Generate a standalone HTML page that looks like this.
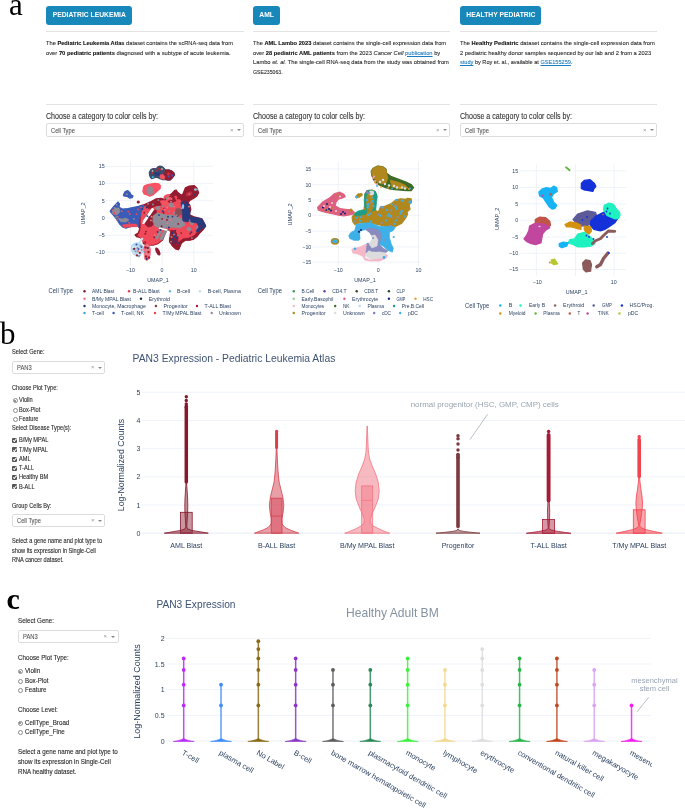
<!DOCTYPE html>
<html><head><meta charset="utf-8">
<style>
*{margin:0;padding:0;box-sizing:border-box}
html,body{width:685px;height:810px;overflow:hidden;background:#fff}
body{position:relative;font-family:"Liberation Sans",sans-serif;color:#333}
.a{position:absolute;white-space:nowrap}
.lbl{position:absolute;font-family:"Liberation Serif",serif;color:#000;line-height:1}
.btn{position:absolute;white-space:nowrap;background:#1888bb;border-radius:3px;color:#fff;font-weight:bold;font-size:8px;text-align:center;line-height:18.5px;height:18.5px;top:6px}
.hr{position:absolute;height:1px;background:#e3e3e3}
.desc{position:absolute;font-size:6.2px;line-height:9.5px;color:#2b2b2b;white-space:nowrap;transform-origin:0 50%}
.desc b{color:#111}
.desc,.sb,.dd .t,.ch{-webkit-text-stroke:0.1px currentColor}
.desc a{color:#1a7bc0;text-decoration:underline}
.ch{position:absolute;font-size:8.6px;color:#333;white-space:nowrap;transform-origin:0 50%;transform:scaleX(0.822)}
.dd{position:absolute;border:1px solid #dcdcdc;border-radius:2px;background:#fff}
.dd .t{position:absolute;font-size:7px;color:#555;white-space:nowrap;transform-origin:0 50%;transform:scaleX(0.82)}
.dd .x{position:absolute;font-size:6px;color:#999}
.dd .v{position:absolute;width:0;height:0;border-left:2px solid transparent;border-right:2px solid transparent;border-top:2.5px solid #888}
.sb{position:absolute;font-size:6.4px;color:#262626;white-space:nowrap;transform-origin:0 50%;transform:scaleX(0.88)}
.sb.sc{transform:scaleX(0.975)}
.rad{position:absolute;width:5px;height:5px;border:0.6px solid #8a8a8a;border-radius:50%;background:#fff}
.rad.on::after{content:"";position:absolute;left:0.9px;top:0.9px;width:2px;height:2px;border-radius:50%;background:#777}
.cb{position:absolute;width:5px;height:5px;background:#555;border-radius:1px}
.cb::after{content:"";position:absolute;left:1.5px;top:0.4px;width:1.3px;height:2.6px;border:solid #fff;border-width:0 0.8px 0.8px 0;transform:rotate(40deg)}
.pt{position:absolute;color:#2a3f5f;white-space:nowrap}
svg{position:absolute;left:0;top:0}
.wrap{position:absolute;left:0;top:0;width:685px;height:810px;will-change:transform;background:transparent}
</style></head>
<body><div class="wrap">
<!-- panel labels -->
<div class="lbl" style="left:9px;top:-11.5px;font-size:31px">a</div>
<div class="lbl" style="left:0px;top:318px;font-size:31px">b</div>
<div class="lbl" style="left:6.5px;top:584px;font-size:30px;font-weight:bold">c</div>

<!-- ============ PANEL A ============ -->
<div class="btn" style="left:46px;width:85.5px"><span style="display:inline-block;transform:scaleX(0.845)">PEDIATRIC LEUKEMIA</span></div>
<div class="btn" style="left:253px;width:27px"><span style="display:inline-block;transform:scaleX(0.845)">AML</span></div>
<div class="btn" style="left:460px;width:81px"><span style="display:inline-block;transform:scaleX(0.845)">HEALTHY PEDIATRIC</span></div>

<div class="hr" style="left:46px;top:31px;width:198px"></div>
<div class="hr" style="left:253px;top:31px;width:197px"></div>
<div class="hr" style="left:460px;top:31px;width:197px"></div>

<div class="desc" style="left:46px;top:38px;transform:scaleX(0.919)">The <b>Pediatric Leukemia Atlas</b> dataset contains the scRNA-seq data from</div>
<div class="desc" style="left:46px;top:47.5px;transform:scaleX(0.937)">over <b>70 pediatric patients</b> diagnosed with a subtype of acute leukemia.</div>

<div class="desc" style="left:253px;top:38px;transform:scaleX(0.924)">The <b>AML Lambo 2023</b> dataset contains the single-cell expression data from</div>
<div class="desc" style="left:253px;top:47.5px;transform:scaleX(0.927)">over <b>28 pediatric AML patients</b> from the 2023 <i>Cancer Cell</i> <a>publication</a> by</div>
<div class="desc" style="left:253px;top:57px;transform:scaleX(0.928)">Lambo <i>et. al.</i> The single-cell RNA-seq data from the study was obtained from</div>
<div class="desc" style="left:253px;top:66.5px;transform:scaleX(0.836)">GSE235063.</div>

<div class="desc" style="left:460px;top:38px;transform:scaleX(0.935)">The <b>Healthy Pediatric</b> dataset contains the single-cell expression data from</div>
<div class="desc" style="left:460px;top:47.5px;transform:scaleX(0.931)">2 pediatric healthy donor samples sequenced by our lab and 2 from a 2023</div>
<div class="desc" style="left:460px;top:57px;transform:scaleX(0.903)"><a>study</a> by Roy et. al., available at <a>GSE155259</a>.</div>

<div class="hr" style="left:46px;top:104px;width:198px"></div>
<div class="hr" style="left:253px;top:104px;width:197px"></div>
<div class="hr" style="left:460px;top:104px;width:197px"></div>

<div class="ch" style="left:46px;top:111px">Choose a category to color cells by:</div>
<div class="ch" style="left:253px;top:111px">Choose a category to color cells by:</div>
<div class="ch" style="left:460px;top:111px">Choose a category to color cells by:</div>

<div class="dd" style="left:46px;top:123px;width:198px;height:14px"><span class="t" style="left:3.5px;top:2.8px">Cell Type</span><span class="x" style="left:183px;top:2.5px">×</span><span class="v" style="left:190px;top:5px"></span></div>
<div class="dd" style="left:253px;top:123px;width:197px;height:14px"><span class="t" style="left:3.5px;top:2.8px">Cell Type</span><span class="x" style="left:182px;top:2.5px">×</span><span class="v" style="left:189px;top:5px"></span></div>
<div class="dd" style="left:460px;top:123px;width:197px;height:14px"><span class="t" style="left:3.5px;top:2.8px">Cell Type</span><span class="x" style="left:182px;top:2.5px">×</span><span class="v" style="left:189px;top:5px"></span></div>

<!-- ============ PANEL B sidebar ============ -->
<div class="sb" style="left:12px;top:348px">Select Gene:</div>
<div class="dd" style="left:12px;top:360.5px;width:92.5px;height:13px"><span class="t" style="left:4px;top:2.5px">PAN3</span><span class="x" style="left:78px;top:2.5px">×</span><span class="v" style="left:85px;top:5px"></span></div>
<div class="sb" style="left:12px;top:383.5px">Choose Plot Type:</div>
<div class="rad on" style="left:12.6px;top:398.2px"></div><div class="sb" style="left:19.3px;top:396.3px">Violin</div>
<div class="rad" style="left:12.6px;top:407.5px"></div><div class="sb" style="left:19.3px;top:405.6px">Box-Plot</div>
<div class="rad" style="left:12.6px;top:416.6px"></div><div class="sb" style="left:19.3px;top:414.7px">Feature</div>
<div class="sb" style="left:12px;top:424.3px">Select Disease Type(s):</div>
<div class="cb" style="left:12.3px;top:438px"></div><div class="sb" style="left:19.3px;top:436.3px">B/My MPAL</div>
<div class="cb" style="left:12.3px;top:447.3px"></div><div class="sb" style="left:19.3px;top:445.6px">T/My MPAL</div>
<div class="cb" style="left:12.3px;top:456.6px"></div><div class="sb" style="left:19.3px;top:454.9px">AML</div>
<div class="cb" style="left:12.3px;top:465.7px"></div><div class="sb" style="left:19.3px;top:464px">T-ALL</div>
<div class="cb" style="left:12.3px;top:475px"></div><div class="sb" style="left:19.3px;top:473.3px">Healthy BM</div>
<div class="cb" style="left:12.3px;top:484.4px"></div><div class="sb" style="left:19.3px;top:482.7px">B-ALL</div>
<div class="sb" style="left:12px;top:501.7px">Group Cells By:</div>
<div class="dd" style="left:12px;top:513.7px;width:92.5px;height:13.5px"><span class="t" style="left:4px;top:2.7px">Cell Type</span><span class="x" style="left:78px;top:2.7px">×</span><span class="v" style="left:85px;top:5.2px"></span></div>
<div class="sb" style="left:12px;top:537.4px">Select a gene name and plot type to</div>
<div class="sb" style="left:12px;top:546.6px">show its expression in Single-Cell</div>
<div class="sb" style="left:12px;top:555.8px">RNA cancer dataset.</div>

<!-- ============ PANEL C sidebar ============ -->
<div class="sb sc" style="left:18px;top:616.8px">Select Gene:</div>
<div class="dd" style="left:17.5px;top:629.6px;width:101px;height:13.7px"><span class="t" style="left:4.5px;top:2.6px">PAN3</span><span class="x" style="left:85px;top:2.6px">×</span><span class="v" style="left:92px;top:5.4px"></span></div>
<div class="sb sc" style="left:18px;top:653.8px">Choose Plot Type:</div>
<div class="rad on" style="left:17.6px;top:668.7px"></div><div class="sb sc" style="left:25.2px;top:666.8px">Violin</div>
<div class="rad" style="left:17.6px;top:678.5px"></div><div class="sb sc" style="left:25.2px;top:676.6px">Box-Plot</div>
<div class="rad" style="left:17.6px;top:688px"></div><div class="sb sc" style="left:25.2px;top:686.1px">Feature</div>
<div class="sb sc" style="left:18px;top:705.7px">Choose Level:</div>
<div class="rad on" style="left:17.6px;top:720.5px"></div><div class="sb sc" style="left:25.2px;top:718.6px">CellType_Broad</div>
<div class="rad" style="left:17.6px;top:730.3px"></div><div class="sb sc" style="left:25.2px;top:728.4px">CellType_Fine</div>
<div class="sb sc" style="left:18px;top:747.6px">Select a gene name and plot type to</div>
<div class="sb sc" style="left:18px;top:757.5px">show its expression in Single-Cell</div>
<div class="sb sc" style="left:18px;top:767.5px">RNA healthy dataset.</div>

<svg width="685" height="810" style="position:absolute;left:0;top:0">
<line x1="130.5" x2="130.5" y1="161.5" y2="265.6" stroke="#ebf0f8" stroke-width="0.8"/>
<line x1="162.1" x2="162.1" y1="161.5" y2="265.6" stroke="#ebf0f8" stroke-width="0.8"/>
<line x1="193.8" x2="193.8" y1="161.5" y2="265.6" stroke="#ebf0f8" stroke-width="0.8"/>
<line x1="105.7" x2="213" y1="166.4" y2="166.4" stroke="#ebf0f8" stroke-width="0.8"/>
<line x1="105.7" x2="213" y1="183.4" y2="183.4" stroke="#ebf0f8" stroke-width="0.8"/>
<line x1="105.7" x2="213" y1="200.7" y2="200.7" stroke="#ebf0f8" stroke-width="0.8"/>
<line x1="105.7" x2="213" y1="218.2" y2="218.2" stroke="#ebf0f8" stroke-width="0.8"/>
<line x1="105.7" x2="213" y1="235.3" y2="235.3" stroke="#ebf0f8" stroke-width="0.8"/>
<line x1="105.7" x2="213" y1="252.3" y2="252.3" stroke="#ebf0f8" stroke-width="0.8"/>
<text x="104.6" y="168.3" font-size="5.3" fill="#2a3f5f" text-anchor="end">15</text>
<text x="104.6" y="185.3" font-size="5.3" fill="#2a3f5f" text-anchor="end">10</text>
<text x="104.6" y="202.6" font-size="5.3" fill="#2a3f5f" text-anchor="end">5</text>
<text x="104.6" y="220.1" font-size="5.3" fill="#2a3f5f" text-anchor="end">0</text>
<text x="104.6" y="237.2" font-size="5.3" fill="#2a3f5f" text-anchor="end">−5</text>
<text x="104.6" y="254.2" font-size="5.3" fill="#2a3f5f" text-anchor="end">−10</text>
<text x="130.5" y="271.7" font-size="5.3" fill="#2a3f5f" text-anchor="middle">−10</text>
<text x="162.1" y="271.7" font-size="5.3" fill="#2a3f5f" text-anchor="middle">0</text>
<text x="193.8" y="271.7" font-size="5.3" fill="#2a3f5f" text-anchor="middle">10</text>
<text x="147.2" y="281.6" font-size="5.6" fill="#2a3f5f" textLength="21.6" lengthAdjust="spacingAndGlyphs">UMAP_1</text>
<text transform="translate(85.4,224.6) rotate(-90)" font-size="5.6" fill="#2a3f5f" textLength="22.2" lengthAdjust="spacingAndGlyphs">UMAP_2</text>
<polygon points="149.3,172.3 151.1,169.3 153.4,168.5 156.4,168.8 157.5,167.0 159.9,166.1 162.2,166.7 164.5,168.8 165.7,170.2 168.6,169.9 171.5,170.8 173.9,172.8 174.5,175.2 172.7,177.5 170.4,179.9 168.0,180.1 165.1,179.3 162.8,179.6 159.9,178.7 157.5,177.5 155.2,177.5 153.4,178.1 151.7,178.7 150.5,177.5 149.6,175.2" fill="#3d4e68" stroke="#3d4e68" stroke-width="1.2" stroke-linejoin="round" fill-opacity="1"/>
<polygon points="165.2,170.0 168.6,169.9 171.5,170.8 173.9,172.8 174.5,175.2 172.7,177.5 170.4,179.9 168.0,180.1 165.1,179.3 164.5,175.0" fill="#951c30" stroke="#951c30" stroke-width="0.8" stroke-linejoin="round" fill-opacity="1"/>
<polygon points="154.6,172.8 158.0,172.3 160.4,173.5 160.0,175.5 156.0,175.5 154.6,174.8" fill="#2c3a80" stroke="#2c3a80" stroke-width="0.6" stroke-linejoin="round" fill-opacity="1"/>
<polygon points="160.2,174.8 163.0,174.5 164.8,176.5 164.5,179.2 161.5,179.0 159.8,177.5" fill="#f4525f" stroke="#f4525f" stroke-width="0.6" stroke-linejoin="round" fill-opacity="1"/>
<ellipse cx="168.5" cy="174" rx="1.5" ry="1.8" fill="#d03040" transform="rotate(0 168.5 174)"/>
<circle cx="168.6" cy="176.4" r="1.0" fill="#3a60c0"/><circle cx="172.4" cy="175.5" r="1.0" fill="#3a60c0"/>
<circle cx="152.8" cy="177.2" r="1.1" fill="#3ab0e8"/>
<circle cx="152.3" cy="173.0" r="0.9" fill="#c0283e"/><circle cx="158.5" cy="168.5" r="0.9" fill="#c0283e"/><circle cx="161.0" cy="169.5" r="0.9" fill="#c0283e"/><circle cx="157.0" cy="170.5" r="0.9" fill="#c0283e"/>
<circle cx="162.0" cy="169.0" r="0.9" fill="#b8b0b8"/><circle cx="152.5" cy="171.0" r="0.9" fill="#b8b0b8"/>
<polygon points="143.5,187.4 144.7,185.7 147.6,184.5 151.7,183.9 155.2,183.4 158.7,183.9 160.4,185.7 160.1,188.6 158.1,190.4 156.9,191.5 154.6,193.3 152.8,195.0 149.9,196.2 147.0,195.0 144.1,193.9 142.9,191.5" fill="#fa5262" stroke="#fa5262" stroke-width="1.2" stroke-linejoin="round" fill-opacity="1"/>
<polygon points="147.0,188.0 149.0,186.5 151.5,186.5 152.8,189.0 152.8,193.5 150.5,194.5 148.0,194.0 146.4,192.0" fill="#8f8b97" stroke="#8f8b97" stroke-width="0.6" stroke-linejoin="round" fill-opacity="1"/>
<circle cx="146.8" cy="189.3" r="0.7" fill="#fa5262"/><circle cx="147.2" cy="191.8" r="0.7" fill="#fa5262"/>
<polygon points="123.4,195.0 125.1,191.5 127.8,190.7 130.0,192.8 131.3,195.0 133.0,195.9 132.2,197.7 129.5,198.1 126.9,196.3 123.8,195.9" fill="#3a5cb8" stroke="#3a5cb8" stroke-width="1.2" stroke-linejoin="round" fill-opacity="1"/>
<ellipse cx="126.8" cy="194.3" rx="1" ry="1" fill="#8f8b97" transform="rotate(0 126.8 194.3)"/>
<ellipse cx="138.3" cy="202" rx="1.6" ry="1.6" fill="#951c30" transform="rotate(0 138.3 202)"/>
<polygon points="140.0,206.0 144.4,204.7 150.5,202.0 155.8,199.0 161.0,198.5 165.0,199.4 168.0,196.0 171.0,194.5 174.5,190.7 176.2,190.2 177.5,192.4 181.0,195.0 182.8,194.6 185.4,188.0 188.9,186.3 194.2,185.8 196.8,188.0 198.5,192.8 196.8,195.9 193.3,198.5 189.8,200.3 188.0,202.9 189.8,205.5 190.7,209.4 188.9,214.6 195.0,217.3 202.0,219.0 203.8,222.5 205.5,226.0 202.9,229.5 199.4,233.0 196.8,236.5 193.3,239.2 188.9,240.0 185.4,239.2 181.9,241.8 180.1,245.3 178.4,249.7 175.8,248.8 172.3,245.3 169.6,241.8 169.6,238.3 171.4,234.8 170.5,231.3 168.5,229.5 166.5,230.5 164.5,235.0 162.5,240.0 158.0,243.5 153.0,245.0 148.0,245.0 143.5,243.5 142.7,239.2 140.0,237.4 136.5,236.5 135.2,234.8 138.3,233.0 140.0,228.6 138.0,226.0 140.0,215.0" fill="#951c30" stroke="#951c30" stroke-width="1.4" stroke-linejoin="round" fill-opacity="1"/>
<polygon points="142.0,208.0 150.0,204.0 158.0,201.0 166.0,202.0 172.0,198.0 176.0,196.0 180.0,199.0 184.0,204.0 186.0,210.0 184.0,216.0 190.0,219.0 198.0,221.0 201.0,225.0 198.0,230.0 194.0,235.0 188.0,237.5 183.0,238.0 178.0,242.0 176.0,245.0 172.0,240.0 172.0,234.0 169.0,229.0 166.0,229.0 164.0,235.0 162.0,239.5 158.0,243.0 153.0,244.5 148.0,244.5 144.0,242.5 141.0,238.0 138.0,235.5 140.0,232.0 141.0,228.0 141.0,218.0" fill="#f04a5a" stroke="#f04a5a" stroke-width="0.8" stroke-linejoin="round" fill-opacity="1"/>
<polygon points="146.0,206.0 152.0,203.0 158.0,201.0 164.0,201.5 170.0,198.0 174.0,197.0 176.0,201.0 170.0,203.0 162.0,205.0 155.0,206.0 149.0,209.0" fill="#951c30" stroke="#951c30" stroke-width="0.8" stroke-linejoin="round" fill-opacity="1"/>
<polygon points="147.0,214.0 152.0,211.0 156.0,210.0 157.0,215.0 155.0,221.0 152.0,226.0 148.0,227.0 145.0,224.0 146.0,218.0" fill="#951c30" stroke="#951c30" stroke-width="0.8" stroke-linejoin="round" fill-opacity="1"/>
<polygon points="160.0,201.0 166.0,200.0 170.0,204.0 168.0,207.0 163.0,207.0" fill="#f4525f" stroke="#f4525f" stroke-width="0.6" stroke-linejoin="round" fill-opacity="1"/>
<ellipse cx="167.4" cy="197.6" rx="3.9" ry="3.4" fill="#f4525f" transform="rotate(-20 167.4 197.6)"/>
<ellipse cx="166.8" cy="198.6" rx="1.5" ry="1.3" fill="#8f8b97" transform="rotate(0 166.8 198.6)"/>
<ellipse cx="169.5" cy="196.2" rx="1.0" ry="1.0" fill="#8f8b97" transform="rotate(0 169.5 196.2)"/>
<polygon points="176.0,192.0 181.0,196.0 184.0,193.0 186.0,189.0 193.0,188.0 196.0,191.0 194.0,195.0 189.0,198.0 186.0,202.0 182.0,201.0 178.0,198.0" fill="#951c30" stroke="#951c30" stroke-width="0.6" stroke-linejoin="round" fill-opacity="1"/>
<ellipse cx="189" cy="194" rx="3.5" ry="2.2" fill="#c0283e" transform="rotate(-20 189 194)"/>
<ellipse cx="195.5" cy="189.5" rx="1.5" ry="1.3" fill="#8fd0f0" transform="rotate(0 195.5 189.5)"/>
<polygon points="153.0,216.0 157.0,213.0 162.0,214.0 166.0,215.0 172.0,215.0 178.0,217.0 183.0,220.0 185.0,225.0 180.0,228.0 172.0,227.0 166.0,228.0 160.0,228.0 155.0,226.0 153.0,221.0" fill="#8f8b97" stroke="#8f8b97" stroke-width="0.8" stroke-linejoin="round" fill-opacity="1"/>
<ellipse cx="158" cy="208" rx="2.5" ry="2" fill="#8f8b97" transform="rotate(0 158 208)"/>
<ellipse cx="171" cy="205" rx="2.5" ry="2.5" fill="#8f8b97" transform="rotate(0 171 205)"/>
<ellipse cx="192" cy="222" rx="2" ry="3" fill="#8f8b97" transform="rotate(0 192 222)"/>
<ellipse cx="198" cy="228" rx="1.8" ry="2.2" fill="#8f8b97" transform="rotate(0 198 228)"/>
<ellipse cx="189" cy="229" rx="2.5" ry="2" fill="#8f8b97" transform="rotate(0 189 229)"/>
<ellipse cx="175" cy="213" rx="2" ry="1.5" fill="#8f8b97" transform="rotate(0 175 213)"/>
<polygon points="165.0,229.5 167.0,230.0 164.0,236.0 162.0,240.0 160.0,239.0 162.0,234.0" fill="#8f8b97" stroke="#8f8b97" stroke-width="1.0" stroke-linejoin="round" fill-opacity="1"/>
<polygon points="181.0,202.0 186.0,201.0 189.0,206.0 190.0,212.0 190.0,217.0 188.0,222.0 183.0,221.0 182.0,213.0" fill="#283a7e" stroke="#283a7e" stroke-width="0.8" stroke-linejoin="round" fill-opacity="1"/>
<polygon points="190.0,217.0 196.0,217.5 202.0,219.0 205.0,224.0 205.5,227.0 202.0,230.0 199.0,233.0 196.0,231.0 199.0,227.0 197.0,223.0 191.0,222.0" fill="#283a7e" stroke="#283a7e" stroke-width="0.8" stroke-linejoin="round" fill-opacity="1"/>
<polygon points="171.0,230.0 175.0,231.0 178.0,236.0 178.0,242.0 176.0,246.0 173.0,244.0 170.0,240.0 170.0,235.0" fill="#951c30" stroke="#951c30" stroke-width="0.8" stroke-linejoin="round" fill-opacity="1"/>
<circle cx="172.5" cy="233.0" r="1.2" fill="#283a7e"/><circle cx="174.5" cy="236.5" r="1.2" fill="#283a7e"/><circle cx="172.0" cy="239.5" r="1.2" fill="#283a7e"/><circle cx="175.5" cy="241.5" r="1.2" fill="#283a7e"/><circle cx="176.5" cy="238.0" r="1.2" fill="#283a7e"/><circle cx="173.5" cy="243.0" r="1.2" fill="#283a7e"/>
<circle cx="174.0" cy="234.5" r="1.0" fill="#8f8b97"/><circle cx="171.5" cy="237.0" r="1.0" fill="#8f8b97"/>
<polygon points="176.0,209.0 181.0,208.0 182.0,214.0 178.0,216.0 175.0,214.0" fill="#8b4f55" stroke="#8b4f55" stroke-width="0.6" stroke-linejoin="round" fill-opacity="1"/>
<ellipse cx="183" cy="206.5" rx="1.2" ry="2.5" fill="#8fc8ee" transform="rotate(0 183 206.5)"/>
<polyline points="172,245 176,248.5 179,248 181,243 185,240 190,239.5 195,237 199,233 203,229" fill="none" stroke="#951c30" stroke-width="2" stroke-linejoin="round"/>
<polygon points="110.3,210.8 113.8,206.4 118.1,202.0 119.5,203.8 119.0,207.3 122.5,209.0 127.8,208.6 133.9,207.3 140.0,206.0 144.0,205.5 141.0,212.0 139.0,220.0 138.5,226.5 133.9,226.0 129.5,226.9 126.0,228.2 122.5,226.9 119.9,224.3 116.4,219.0 112.9,214.6 110.3,211.6" fill="#3a5cb8" stroke="#3a5cb8" stroke-width="1.2" stroke-linejoin="round" fill-opacity="1"/>
<polygon points="112.0,211.0 115.0,208.0 119.0,208.0 120.0,212.0 117.0,215.0 113.0,214.0" fill="#8f8b97" stroke="#8f8b97" stroke-width="0.6" stroke-linejoin="round" fill-opacity="1"/>
<polygon points="118.0,218.0 122.0,219.0 126.0,218.0 129.0,220.0 126.0,222.0 121.0,222.0" fill="#8f8b97" stroke="#8f8b97" stroke-width="0.6" stroke-linejoin="round" fill-opacity="1"/>
<polygon points="122.0,225.0 130.0,224.0 136.0,224.0 138.0,226.5 130.0,227.0 124.0,227.5" fill="#f04a5a" stroke="#f04a5a" stroke-width="0.6" stroke-linejoin="round" fill-opacity="1"/>
<circle cx="128.4" cy="211.6" r="0.9" fill="#f04a5a"/><circle cx="141.0" cy="207.6" r="0.9" fill="#f04a5a"/><circle cx="113.4" cy="213.1" r="0.9" fill="#8f8b97"/><circle cx="114.5" cy="207.8" r="0.9" fill="#8f8b97"/><circle cx="117.8" cy="216.6" r="0.9" fill="#f04a5a"/><circle cx="114.3" cy="210.1" r="0.9" fill="#8f8b97"/><circle cx="116.4" cy="217.2" r="0.9" fill="#8f8b97"/><circle cx="116.6" cy="204.6" r="0.9" fill="#8f8b97"/><circle cx="117.2" cy="219.8" r="0.9" fill="#f04a5a"/><circle cx="136.5" cy="214.2" r="0.9" fill="#f04a5a"/><circle cx="113.1" cy="209.9" r="0.9" fill="#f04a5a"/><circle cx="114.3" cy="213.0" r="0.9" fill="#f04a5a"/><circle cx="115.4" cy="214.8" r="0.9" fill="#f04a5a"/><circle cx="129.1" cy="222.7" r="0.9" fill="#f04a5a"/><circle cx="121.8" cy="211.2" r="0.9" fill="#f04a5a"/><circle cx="129.8" cy="214.0" r="0.9" fill="#f04a5a"/><circle cx="133.9" cy="219.0" r="0.9" fill="#8f8b97"/><circle cx="138.0" cy="209.5" r="0.9" fill="#f04a5a"/>
<line x1="152.5" y1="209.5" x2="143.5" y2="222.5" stroke="#fff" stroke-width="3" stroke-linecap="round"/>
<line x1="161" y1="230" x2="157" y2="238" stroke="#8f8b97" stroke-width="2.5" stroke-linecap="round"/>
<line x1="159.5" y1="228.3" x2="167" y2="230" stroke="#fff" stroke-width="1.6" stroke-linecap="round"/>
<polygon points="131.5,245.5 134.0,243.5 137.0,242.8 140.0,243.5 142.5,245.0 143.2,248.5 142.8,252.0 141.0,255.0 138.5,257.0 135.5,256.0 133.0,253.5 131.5,250.0" fill="#b3d7ef" stroke="#b3d7ef" stroke-width="1.0" stroke-linejoin="round" fill-opacity="1"/>
<circle cx="133.2" cy="246.8" r="1.3" fill="#d8ecf2"/><circle cx="136.5" cy="247.5" r="1.3" fill="#d8ecf2"/><circle cx="140.0" cy="250.5" r="1.3" fill="#d8ecf2"/><circle cx="134.5" cy="252.5" r="1.3" fill="#d8ecf2"/><circle cx="138.0" cy="254.5" r="1.3" fill="#d8ecf2"/>
<circle cx="136.5" cy="244.5" r="1.0" fill="#3a5cb8"/><circle cx="134.0" cy="249.0" r="1.0" fill="#3a5cb8"/><circle cx="138.5" cy="249.0" r="1.0" fill="#3a5cb8"/><circle cx="141.5" cy="247.0" r="1.0" fill="#3a5cb8"/>
<circle cx="134.3" cy="248.8" r="1.1" fill="#8f1d2f"/><circle cx="139.8" cy="252.8" r="1.1" fill="#8f1d2f"/><circle cx="137.0" cy="255.3" r="1.1" fill="#8f1d2f"/>
<circle cx="137.3" cy="248.0" r="1.0" fill="#8f8b97"/><circle cx="140.7" cy="246.0" r="1.0" fill="#8f8b97"/><circle cx="135.5" cy="251.5" r="1.0" fill="#8f8b97"/><circle cx="139.0" cy="256.0" r="1.0" fill="#8f8b97"/>
<circle cx="138.0" cy="251.2" r="1.1" fill="#f27583"/><circle cx="141.5" cy="250.0" r="1.1" fill="#f27583"/>
<line x1="139.5" y1="242.5" x2="142.3" y2="238.7" stroke="#cfe6ee" stroke-width="2" stroke-linecap="round"/>
<polygon points="144.3,245.5 146.8,244.3 149.3,245.6 150.7,249.5 150.3,254.5 149.2,258.8 146.8,260.7 144.6,259.2 144.1,254.0 143.6,249.0" fill="#f27583" stroke="#f27583" stroke-width="0.8" stroke-linejoin="round" fill-opacity="1"/>
<circle cx="145.5" cy="247.5" r="1.2" fill="#a51b32"/><circle cx="148.5" cy="252.0" r="1.2" fill="#a51b32"/><circle cx="146.0" cy="256.5" r="1.2" fill="#a51b32"/><circle cx="149.0" cy="257.5" r="1.2" fill="#a51b32"/>
<circle cx="147.8" cy="248.0" r="1.1" fill="#253575"/><circle cx="146.7" cy="258.8" r="1.1" fill="#253575"/>
<circle cx="145.2" cy="252.2" r="1.1" fill="#8f8b97"/>
<ellipse cx="157.8" cy="251.5" rx="2.0" ry="4.3" fill="#951c30" transform="rotate(-25 157.8 251.5)"/>
<circle cx="178.1" cy="217.3" r="0.95" fill="#8f8b97"/><circle cx="189.2" cy="194.1" r="0.95" fill="#8f8b97"/><circle cx="170.1" cy="196.4" r="0.95" fill="#951c30"/><circle cx="173.8" cy="242.2" r="0.95" fill="#951c30"/><circle cx="164.4" cy="208.7" r="0.95" fill="#951c30"/><circle cx="151.6" cy="216.8" r="0.95" fill="#f27583"/><circle cx="148.0" cy="203.8" r="0.95" fill="#8f8b97"/><circle cx="164.7" cy="209.4" r="0.95" fill="#f27583"/><circle cx="181.2" cy="233.1" r="0.95" fill="#951c30"/><circle cx="162.8" cy="211.3" r="0.95" fill="#283a7e"/><circle cx="169.1" cy="211.4" r="0.95" fill="#8f8b97"/><circle cx="146.6" cy="207.5" r="0.95" fill="#283a7e"/><circle cx="142.4" cy="222.0" r="0.95" fill="#f27583"/><circle cx="142.3" cy="209.0" r="0.95" fill="#283a7e"/><circle cx="161.6" cy="226.3" r="0.95" fill="#951c30"/><circle cx="177.5" cy="216.1" r="0.95" fill="#283a7e"/><circle cx="168.0" cy="216.7" r="0.95" fill="#283a7e"/><circle cx="145.3" cy="233.7" r="0.95" fill="#951c30"/><circle cx="171.5" cy="198.9" r="0.95" fill="#f27583"/><circle cx="160.6" cy="229.9" r="0.95" fill="#283a7e"/><circle cx="188.5" cy="204.8" r="0.95" fill="#283a7e"/><circle cx="184.1" cy="202.5" r="0.95" fill="#951c30"/><circle cx="150.9" cy="220.4" r="0.95" fill="#f27583"/><circle cx="158.4" cy="200.1" r="0.95" fill="#8f8b97"/><circle cx="191.9" cy="238.1" r="0.95" fill="#8f8b97"/><circle cx="149.3" cy="217.3" r="0.95" fill="#283a7e"/><circle cx="168.4" cy="198.2" r="0.95" fill="#f27583"/><circle cx="179.1" cy="243.3" r="0.95" fill="#283a7e"/><circle cx="168.9" cy="227.5" r="0.95" fill="#283a7e"/><circle cx="193.9" cy="193.5" r="0.95" fill="#951c30"/><circle cx="190.2" cy="233.7" r="0.95" fill="#951c30"/><circle cx="176.7" cy="215.5" r="0.95" fill="#8f8b97"/><circle cx="178.2" cy="223.9" r="0.95" fill="#951c30"/><circle cx="181.4" cy="208.2" r="0.95" fill="#f27583"/><circle cx="191.4" cy="232.2" r="0.95" fill="#283a7e"/><circle cx="152.9" cy="204.5" r="0.95" fill="#8f8b97"/><circle cx="188.9" cy="206.6" r="0.95" fill="#f27583"/><circle cx="167.4" cy="223.1" r="0.95" fill="#f27583"/><circle cx="170.5" cy="219.8" r="0.95" fill="#f27583"/><circle cx="171.1" cy="241.6" r="0.95" fill="#8f8b97"/><circle cx="178.0" cy="235.4" r="0.95" fill="#8f8b97"/><circle cx="147.3" cy="216.1" r="0.95" fill="#283a7e"/><circle cx="174.3" cy="206.6" r="0.95" fill="#f27583"/><circle cx="172.5" cy="216.6" r="0.95" fill="#283a7e"/><circle cx="197.3" cy="189.4" r="0.95" fill="#8f8b97"/><circle cx="154.7" cy="235.1" r="0.95" fill="#f27583"/><circle cx="177.8" cy="198.5" r="0.95" fill="#951c30"/><circle cx="167.0" cy="219.9" r="0.95" fill="#951c30"/><circle cx="170.9" cy="201.6" r="0.95" fill="#f27583"/><circle cx="153.4" cy="221.6" r="0.95" fill="#8f8b97"/><circle cx="194.3" cy="194.6" r="0.95" fill="#283a7e"/><circle cx="162.8" cy="206.0" r="0.95" fill="#8f8b97"/><circle cx="165.3" cy="199.4" r="0.95" fill="#951c30"/><circle cx="146.1" cy="231.6" r="0.95" fill="#951c30"/><circle cx="145.3" cy="242.2" r="0.95" fill="#951c30"/><circle cx="163.2" cy="216.9" r="0.95" fill="#8f8b97"/><circle cx="146.6" cy="213.4" r="0.95" fill="#f27583"/><circle cx="163.6" cy="212.7" r="0.95" fill="#951c30"/><circle cx="157.6" cy="231.9" r="0.95" fill="#283a7e"/><circle cx="159.0" cy="215.1" r="0.95" fill="#283a7e"/><circle cx="162.2" cy="218.9" r="0.95" fill="#951c30"/><circle cx="144.3" cy="212.8" r="0.95" fill="#951c30"/><circle cx="163.7" cy="220.1" r="0.95" fill="#f27583"/><circle cx="175.3" cy="230.6" r="0.95" fill="#283a7e"/><circle cx="154.8" cy="236.9" r="0.95" fill="#8f8b97"/><circle cx="201.2" cy="226.3" r="0.95" fill="#951c30"/><circle cx="167.1" cy="207.5" r="0.95" fill="#f27583"/><circle cx="179.4" cy="219.7" r="0.95" fill="#8f8b97"/><circle cx="155.6" cy="217.8" r="0.95" fill="#8f8b97"/><circle cx="154.2" cy="237.2" r="0.95" fill="#951c30"/>
<text x="48.6" y="293.0" font-size="6.3" fill="#2a3f5f" textLength="24.3" lengthAdjust="spacingAndGlyphs">Cell Type</text>
<circle cx="84.5" cy="291.3" r="1.2" fill="#7f1a2a"/>
<text x="92" y="293.2" font-size="5.4" fill="#2a3f5f" textLength="22.5" lengthAdjust="spacingAndGlyphs">AML Blast</text>
<circle cx="129" cy="291.3" r="1.2" fill="#d3404f"/>
<text x="133" y="293.2" font-size="5.4" fill="#2a3f5f" textLength="26.6" lengthAdjust="spacingAndGlyphs">B-ALL Blast</text>
<circle cx="170" cy="291.3" r="1.2" fill="#6ab4e0"/>
<text x="177" y="293.2" font-size="5.4" fill="#2a3f5f" textLength="13" lengthAdjust="spacingAndGlyphs">B-cell</text>
<circle cx="200" cy="291.3" r="1.2" fill="#c0e0ea"/>
<text x="207.7" y="293.2" font-size="5.4" fill="#2a3f5f" textLength="33.1" lengthAdjust="spacingAndGlyphs">B-cell, Plasma</text>
<circle cx="84.5" cy="298.7" r="1.2" fill="#f27583"/>
<text x="92" y="300.6" font-size="5.4" fill="#2a3f5f" textLength="39" lengthAdjust="spacingAndGlyphs">B/My MPAL Blast</text>
<circle cx="141" cy="298.7" r="1.2" fill="#1a2a40"/>
<text x="148.8" y="300.6" font-size="5.4" fill="#2a3f5f" textLength="21.2" lengthAdjust="spacingAndGlyphs">Erythroid</text>
<circle cx="84.5" cy="306" r="1.2" fill="#253575"/>
<text x="92" y="307.9" font-size="5.4" fill="#2a3f5f" textLength="53.8" lengthAdjust="spacingAndGlyphs">Monocyte, Macrophage</text>
<circle cx="155.9" cy="306" r="1.2" fill="#7d3a3e"/>
<text x="163.5" y="307.9" font-size="5.4" fill="#2a3f5f" textLength="24.3" lengthAdjust="spacingAndGlyphs">Progenitor</text>
<circle cx="197" cy="306" r="1.2" fill="#a51b32"/>
<text x="204.6" y="307.9" font-size="5.4" fill="#2a3f5f" textLength="26.4" lengthAdjust="spacingAndGlyphs">T-ALL Blast</text>
<circle cx="84.5" cy="313" r="1.2" fill="#3aa0d8"/>
<text x="92" y="314.9" font-size="5.4" fill="#2a3f5f" textLength="11.8" lengthAdjust="spacingAndGlyphs">T-cell</text>
<circle cx="113.6" cy="313" r="1.2" fill="#3a5cb8"/>
<text x="121" y="314.9" font-size="5.4" fill="#2a3f5f" textLength="23" lengthAdjust="spacingAndGlyphs">T-cell, NK</text>
<circle cx="155" cy="313" r="1.2" fill="#f2434f"/>
<text x="162.6" y="314.9" font-size="5.4" fill="#2a3f5f" textLength="38.9" lengthAdjust="spacingAndGlyphs">T/My MPAL Blast</text>
<circle cx="211.7" cy="313" r="1.2" fill="#8f8b97"/>
<text x="219" y="314.9" font-size="5.4" fill="#2a3f5f" textLength="21.8" lengthAdjust="spacingAndGlyphs">Unknown</text>
<line x1="338.3" x2="338.3" y1="161.5" y2="266" stroke="#ebf0f8" stroke-width="0.8"/>
<line x1="378.3" x2="378.3" y1="161.5" y2="266" stroke="#ebf0f8" stroke-width="0.8"/>
<line x1="418.5" x2="418.5" y1="161.5" y2="266" stroke="#ebf0f8" stroke-width="0.8"/>
<line x1="312.5" x2="420.5" y1="169" y2="169" stroke="#ebf0f8" stroke-width="0.8"/>
<line x1="312.5" x2="420.5" y1="184.6" y2="184.6" stroke="#ebf0f8" stroke-width="0.8"/>
<line x1="312.5" x2="420.5" y1="200" y2="200" stroke="#ebf0f8" stroke-width="0.8"/>
<line x1="312.5" x2="420.5" y1="215.3" y2="215.3" stroke="#ebf0f8" stroke-width="0.8"/>
<line x1="312.5" x2="420.5" y1="231.2" y2="231.2" stroke="#ebf0f8" stroke-width="0.8"/>
<line x1="312.5" x2="420.5" y1="246.9" y2="246.9" stroke="#ebf0f8" stroke-width="0.8"/>
<line x1="312.5" x2="420.5" y1="262.2" y2="262.2" stroke="#ebf0f8" stroke-width="0.8"/>
<text x="311.3" y="170.9" font-size="5.3" fill="#2a3f5f" text-anchor="end">15</text>
<text x="311.3" y="186.5" font-size="5.3" fill="#2a3f5f" text-anchor="end">10</text>
<text x="311.3" y="201.9" font-size="5.3" fill="#2a3f5f" text-anchor="end">5</text>
<text x="311.3" y="217.2" font-size="5.3" fill="#2a3f5f" text-anchor="end">0</text>
<text x="311.3" y="233.1" font-size="5.3" fill="#2a3f5f" text-anchor="end">−5</text>
<text x="311.3" y="248.8" font-size="5.3" fill="#2a3f5f" text-anchor="end">−10</text>
<text x="311.3" y="264.1" font-size="5.3" fill="#2a3f5f" text-anchor="end">−15</text>
<text x="338.3" y="272.1" font-size="5.3" fill="#2a3f5f" text-anchor="middle">−10</text>
<text x="378.3" y="272.1" font-size="5.3" fill="#2a3f5f" text-anchor="middle">0</text>
<text x="418.5" y="272.1" font-size="5.3" fill="#2a3f5f" text-anchor="middle">10</text>
<text x="354.2" y="282.3" font-size="5.6" fill="#2a3f5f" textLength="21.6" lengthAdjust="spacingAndGlyphs">UMAP_1</text>
<text transform="translate(291.9,225.5) rotate(-90)" font-size="5.6" fill="#2a3f5f" textLength="22.2" lengthAdjust="spacingAndGlyphs">UMAP_2</text>
<polygon points="317.6,207.3 322.8,202.0 329.4,198.1 334.7,193.5 339.9,192.2 343.9,194.2 345.2,196.8 341.9,198.1 338.6,198.8 336.0,202.0 335.3,206.0 339.9,208.6 345.2,209.3 350.4,209.9 353.1,211.2 354.4,212.6 351.8,214.5 347.8,215.2 343.9,215.8 338.6,215.2 333.4,213.9 326.8,212.6 321.5,211.2 318.2,209.9" fill="#de5f7f" stroke="#de5f7f" stroke-width="1.2" stroke-linejoin="round" fill-opacity="1"/>
<circle cx="323.0" cy="207.5" r="1.1" fill="#1a2a80"/><circle cx="326.0" cy="210.0" r="1.1" fill="#1a2a80"/><circle cx="329.0" cy="209.0" r="1.1" fill="#1a2a80"/><circle cx="331.0" cy="210.5" r="1.1" fill="#1a2a80"/><circle cx="327.0" cy="204.0" r="1.1" fill="#1a2a80"/><circle cx="343.0" cy="212.0" r="1.1" fill="#1a2a80"/><circle cx="345.0" cy="213.5" r="1.1" fill="#1a2a80"/><circle cx="341.0" cy="214.0" r="1.1" fill="#1a2a80"/>
<circle cx="325.0" cy="209.5" r="1.0" fill="#b0881e"/><circle cx="328.0" cy="211.0" r="1.0" fill="#b0881e"/><circle cx="333.0" cy="208.0" r="1.0" fill="#b0881e"/><circle cx="339.0" cy="195.0" r="1.0" fill="#b0881e"/>
<circle cx="324.0" cy="206.0" r="1.0" fill="#f4d0dc"/><circle cx="330.0" cy="207.0" r="1.0" fill="#f4d0dc"/><circle cx="336.0" cy="211.0" r="1.0" fill="#f4d0dc"/><circle cx="340.0" cy="196.5" r="1.0" fill="#f4d0dc"/><circle cx="332.0" cy="203.0" r="1.0" fill="#f4d0dc"/>
<ellipse cx="351" cy="210.2" rx="1.6" ry="1.6" fill="#b0881e" transform="rotate(0 351 210.2)"/>
<polygon points="355.7,196.0 358.0,193.8 362.0,193.5 362.3,195.5 359.0,197.5 356.0,198.1" fill="#b0881e" stroke="#b0881e" stroke-width="0.8" stroke-linejoin="round" fill-opacity="1"/>
<ellipse cx="356.5" cy="197" rx="1.2" ry="1.2" fill="#3eb0e8" transform="rotate(0 356.5 197)"/>
<polygon points="371.2,171.2 373.3,168.2 377.4,166.1 382.5,166.6 386.1,169.2 386.6,173.3 390.7,176.3 398.8,179.4 406.0,182.0 411.1,184.5 413.6,187.6 411.1,190.7 407.0,190.7 400.9,190.1 394.7,189.6 390.7,189.1 385.5,187.6 380.4,185.5 376.3,183.5 373.3,179.4 371.8,175.3" fill="#3f6a26" stroke="#3f6a26" stroke-width="1.2" stroke-linejoin="round" fill-opacity="1"/>
<polygon points="371.5,171.0 373.3,168.2 377.4,166.1 382.5,166.6 386.1,169.2 386.6,173.3 388.0,178.0 386.0,183.0 382.0,184.0 377.0,182.0 374.0,178.0 372.0,175.0" fill="#b0881e" stroke="#b0881e" stroke-width="0.8" stroke-linejoin="round" fill-opacity="1"/>
<polygon points="390.0,180.0 398.0,182.0 405.0,185.0 408.0,188.0 400.0,188.5 392.0,187.0" fill="#b0881e" stroke="#b0881e" stroke-width="0.6" stroke-linejoin="round" fill-opacity="1"/>
<circle cx="385.0" cy="184.0" r="1.2" fill="#e0e0e0"/><circle cx="389.0" cy="185.5" r="1.2" fill="#e0e0e0"/><circle cx="394.0" cy="186.0" r="1.2" fill="#e0e0e0"/><circle cx="397.0" cy="187.5" r="1.2" fill="#e0e0e0"/><circle cx="402.0" cy="187.5" r="1.2" fill="#e0e0e0"/><circle cx="405.0" cy="188.5" r="1.2" fill="#e0e0e0"/><circle cx="380.0" cy="182.0" r="1.2" fill="#e0e0e0"/><circle cx="383.0" cy="180.0" r="1.2" fill="#e0e0e0"/>
<circle cx="374.0" cy="176.5" r="1.1" fill="#f0a0b8"/><circle cx="373.0" cy="178.0" r="1.1" fill="#f0a0b8"/><circle cx="377.0" cy="184.0" r="1.1" fill="#f0a0b8"/><circle cx="375.0" cy="181.0" r="1.1" fill="#f0a0b8"/>
<circle cx="381.0" cy="187.0" r="0.9" fill="#f0a020"/><circle cx="388.0" cy="187.8" r="0.9" fill="#f0a020"/><circle cx="400.0" cy="188.0" r="0.9" fill="#f0a020"/><circle cx="409.0" cy="189.0" r="0.9" fill="#f0a020"/><circle cx="375.0" cy="182.5" r="0.9" fill="#f0a020"/>
<circle cx="377.0" cy="186.0" r="0.9" fill="#3eb0e8"/><circle cx="392.0" cy="188.5" r="0.9" fill="#3eb0e8"/><circle cx="410.0" cy="188.5" r="0.9" fill="#3eb0e8"/>
<polygon points="360.0,213.1 364.1,209.1 365.1,200.9 364.6,194.7 367.2,190.7 372.3,190.1 375.3,191.7 376.9,196.8 375.3,202.9 374.8,210.1 378.4,212.1 380.4,207.0 385.5,206.0 390.7,203.9 395.8,199.9 400.9,198.8 406.0,199.3 407.5,198.3 411.1,198.8 411.6,201.9 409.0,205.0 410.1,209.1 407.0,212.1 407.6,214.0 406.1,217.3 401.8,223.1 395.9,226.1 390.1,227.5 384.2,226.1 378.4,224.6 371.1,223.1 363.8,222.4 358.0,223.1 355.0,224.6 352.8,221.7 352.1,217.3 354.0,214.0" fill="#b0881e" stroke="#b0881e" stroke-width="1.2" stroke-linejoin="round" fill-opacity="1"/>
<polygon points="364.7,194.0 367.0,190.5 372.0,190.2 375.5,191.5 377.2,196.0 376.5,203.0 375.8,210.0 372.0,211.0 367.0,210.5 364.5,207.0 364.2,200.0" fill="#1a9e8a" stroke="#1a9e8a" stroke-width="0.6" stroke-linejoin="round" fill-opacity="1"/>
<polygon points="366.8,196.0 369.0,193.0 372.5,194.0 373.8,200.0 373.5,207.0 371.5,211.0 367.5,210.5 366.5,203.0" fill="#b0881e" stroke="#b0881e" stroke-width="0.5" stroke-linejoin="round" fill-opacity="1"/>
<ellipse cx="371.5" cy="193" rx="2.6" ry="2.4" fill="#dcdcdc" transform="rotate(0 371.5 193)"/>
<ellipse cx="367" cy="191.5" rx="1.2" ry="1" fill="#8a5ab0" transform="rotate(0 367 191.5)"/>
<ellipse cx="368" cy="204.5" rx="1.5" ry="1.5" fill="#3eb0e8" transform="rotate(0 368 204.5)"/>
<ellipse cx="372" cy="197.5" rx="1" ry="1" fill="#3eb0e8" transform="rotate(0 372 197.5)"/>
<polygon points="354.8,213.0 358.0,211.0 362.0,210.0 367.0,210.5 366.0,214.0 360.0,215.6 355.0,216.0" fill="#1a9e8a" stroke="#1a9e8a" stroke-width="0.6" stroke-linejoin="round" fill-opacity="1"/>
<circle cx="378.7" cy="214.7" r="1.15" fill="#8a8cc0"/><circle cx="391.2" cy="210.5" r="1.15" fill="#8a8cc0"/><circle cx="409.8" cy="201.6" r="1.15" fill="#3eb0e8"/><circle cx="410.6" cy="202.9" r="1.15" fill="#3eb0e8"/><circle cx="356.3" cy="217.8" r="1.15" fill="#3eb0e8"/><circle cx="391.7" cy="204.3" r="1.15" fill="#3eb0e8"/><circle cx="387.7" cy="216.0" r="1.15" fill="#3eb0e8"/><circle cx="409.6" cy="201.7" r="1.15" fill="#3eb0e8"/><circle cx="369.9" cy="213.6" r="1.15" fill="#3eb0e8"/><circle cx="386.9" cy="209.9" r="1.15" fill="#3eb0e8"/><circle cx="391.2" cy="216.9" r="1.15" fill="#8a8cc0"/><circle cx="397.6" cy="217.1" r="1.15" fill="#8a8cc0"/><circle cx="361.0" cy="217.2" r="1.15" fill="#3eb0e8"/><circle cx="354.7" cy="221.3" r="1.15" fill="#8a8cc0"/><circle cx="395.8" cy="220.5" r="1.15" fill="#3eb0e8"/><circle cx="385.9" cy="220.5" r="1.15" fill="#3eb0e8"/><circle cx="401.3" cy="211.9" r="1.15" fill="#3eb0e8"/><circle cx="390.0" cy="226.0" r="1.15" fill="#8a8cc0"/><circle cx="401.8" cy="211.0" r="1.15" fill="#3eb0e8"/><circle cx="389.4" cy="215.6" r="1.15" fill="#8a8cc0"/><circle cx="367.8" cy="207.2" r="1.15" fill="#3eb0e8"/><circle cx="396.6" cy="208.9" r="1.15" fill="#3eb0e8"/><circle cx="380.6" cy="215.7" r="1.15" fill="#3eb0e8"/><circle cx="388.8" cy="214.1" r="1.15" fill="#3eb0e8"/><circle cx="390.9" cy="216.0" r="1.15" fill="#3eb0e8"/><circle cx="368.1" cy="215.2" r="1.15" fill="#3eb0e8"/><circle cx="382.8" cy="207.5" r="1.15" fill="#8a8cc0"/><circle cx="369.3" cy="193.0" r="1.15" fill="#8a8cc0"/><circle cx="396.6" cy="199.9" r="1.15" fill="#3eb0e8"/><circle cx="360.0" cy="220.8" r="1.15" fill="#3eb0e8"/><circle cx="404.9" cy="216.4" r="1.15" fill="#3eb0e8"/><circle cx="381.7" cy="222.9" r="1.15" fill="#8a8cc0"/><circle cx="381.4" cy="207.0" r="1.15" fill="#3eb0e8"/><circle cx="395.4" cy="205.7" r="1.15" fill="#8a8cc0"/><circle cx="370.9" cy="221.5" r="1.15" fill="#3eb0e8"/><circle cx="371.4" cy="202.8" r="1.15" fill="#8a8cc0"/><circle cx="394.5" cy="223.8" r="1.15" fill="#3eb0e8"/><circle cx="367.2" cy="192.5" r="1.15" fill="#8a8cc0"/><circle cx="373.6" cy="206.1" r="1.15" fill="#3eb0e8"/><circle cx="402.9" cy="200.6" r="1.15" fill="#3eb0e8"/><circle cx="401.8" cy="200.8" r="1.15" fill="#3eb0e8"/><circle cx="366.9" cy="200.0" r="1.15" fill="#3eb0e8"/><circle cx="400.4" cy="213.7" r="1.15" fill="#3eb0e8"/><circle cx="395.7" cy="207.0" r="1.15" fill="#3eb0e8"/><circle cx="372.5" cy="201.2" r="1.15" fill="#3eb0e8"/>
<polygon points="348.9,235.3 350.9,232.4 354.8,230.4 355.8,226.4 359.7,224.5 363.7,226.4 362.7,231.4 359.7,233.4 360.7,238.3 358.8,240.3 353.8,240.3 349.4,238.3" fill="#3eb0e8" stroke="#3eb0e8" stroke-width="0.8" stroke-linejoin="round" fill-opacity="1"/>
<polygon points="355.5,224.6 362.0,223.3 370.0,222.8 379.5,226.4 391.3,226.4 395.3,227.4 393.3,230.4 389.3,232.4 389.3,237.3 391.3,244.2 393.3,248.2 392.3,252.1 387.4,250.1 383.4,246.2 379.5,244.2 374.0,240.0 368.0,236.0 363.0,232.0 358.0,229.0" fill="#3eb0e8" stroke="#3eb0e8" stroke-width="0.8" stroke-linejoin="round" fill-opacity="1"/>
<polygon points="366.0,229.0 372.0,228.0 379.0,230.0 382.0,236.0 379.0,244.0 383.0,248.0 388.0,251.0 384.0,254.0 378.0,255.0 371.0,254.0 367.0,250.0 366.6,243.0 368.0,236.0" fill="#8a8cc0" stroke="#8a8cc0" stroke-width="0.6" stroke-linejoin="round" fill-opacity="1"/>
<polygon points="370.0,236.0 375.0,235.0 378.0,240.0 377.0,246.0 372.0,248.0 369.0,244.0" fill="#dcdcdc" stroke="#dcdcdc" stroke-width="0.6" stroke-linejoin="round" fill-opacity="1"/>
<polygon points="351.8,249.1 355.8,248.2 359.7,247.2 365.7,244.2 367.6,249.1 365.7,254.1 364.7,258.0 369.6,260.0 379.5,258.0 384.4,254.1 387.4,255.1 386.4,258.0 379.5,261.0 369.6,261.0 364.7,260.0 362.7,256.1 357.8,254.1 352.8,253.1" fill="#f4b8c8" stroke="#f4b8c8" stroke-width="0.8" stroke-linejoin="round" fill-opacity="1"/>
<polygon points="367.0,250.0 372.0,252.0 380.0,252.0 386.0,253.0 384.0,257.0 378.0,258.5 370.0,259.0 366.0,256.0" fill="#dcdcdc" stroke="#dcdcdc" stroke-width="0.6" stroke-linejoin="round" fill-opacity="1"/>
<polygon points="366.5,246.0 370.0,249.0 366.0,253.0" fill="#8a8cc0" stroke="#8a8cc0" stroke-width="0.5" stroke-linejoin="round" fill-opacity="1"/>
<polygon points="360.7,231.4 365.7,230.4 369.6,233.4 371.6,238.3 369.6,242.2 364.7,243.2 361.7,241.3 360.7,237.3" fill="#ffffff" stroke="#ffffff" stroke-width="0.8" stroke-linejoin="round" fill-opacity="1"/>
<circle cx="359.0" cy="231.8" r="1.1" fill="#1a2a80"/><circle cx="361.0" cy="230.0" r="1.1" fill="#1a2a80"/>
<circle cx="379.0" cy="236.0" r="1.0" fill="#8a8cc0"/><circle cx="385.0" cy="240.0" r="1.0" fill="#8a8cc0"/><circle cx="373.0" cy="238.0" r="1.0" fill="#8a8cc0"/><circle cx="381.0" cy="249.0" r="1.0" fill="#8a8cc0"/><circle cx="376.0" cy="251.0" r="1.0" fill="#8a8cc0"/>
<ellipse cx="355" cy="248.7" rx="1.3" ry="1.3" fill="#3eb0e8" transform="rotate(0 355 248.7)"/>
<ellipse cx="335" cy="241.3" rx="4.2" ry="3.4" fill="#b0881e" transform="rotate(0 335 241.3)"/>
<ellipse cx="335" cy="241.3" rx="2.6" ry="2.0" fill="#3eb0e8" transform="rotate(0 335 241.3)"/>
<ellipse cx="393.7" cy="237" rx="1.1" ry="1.1" fill="#3eb0e8" transform="rotate(0 393.7 237)"/>
<ellipse cx="384" cy="257.5" rx="1.4" ry="1.4" fill="#3eb0e8" transform="rotate(0 384 257.5)"/>
<text x="257.7" y="293.0" font-size="6.3" fill="#2a3f5f" textLength="24.3" lengthAdjust="spacingAndGlyphs">Cell Type</text>
<circle cx="293.8" cy="291.3" r="1.2" fill="#3a9a5a"/>
<text x="301.5" y="293.2" font-size="5.4" fill="#2a3f5f" textLength="12.9" lengthAdjust="spacingAndGlyphs">B.Cell</text>
<circle cx="324.5" cy="291.3" r="1.2" fill="#6a3aa8"/>
<text x="332.2" y="293.2" font-size="5.4" fill="#2a3f5f" textLength="14.4" lengthAdjust="spacingAndGlyphs">CD4.T</text>
<circle cx="356.7" cy="291.3" r="1.2" fill="#3a3a1a"/>
<text x="364.3" y="293.2" font-size="5.4" fill="#2a3f5f" textLength="13.8" lengthAdjust="spacingAndGlyphs">CD8.T</text>
<circle cx="388.9" cy="291.3" r="1.2" fill="#1a4a2a"/>
<text x="396.5" y="293.2" font-size="5.4" fill="#2a3f5f" textLength="8.3" lengthAdjust="spacingAndGlyphs">CLP</text>
<circle cx="293.8" cy="298.7" r="1.2" fill="#8ad08a"/>
<text x="301.5" y="300.6" font-size="5.4" fill="#2a3f5f" textLength="31.9" lengthAdjust="spacingAndGlyphs">Early.Basophil</text>
<circle cx="344.4" cy="298.7" r="1.2" fill="#de5f7f"/>
<text x="352.1" y="300.6" font-size="5.4" fill="#2a3f5f" textLength="26" lengthAdjust="spacingAndGlyphs">Erythrocyte</text>
<circle cx="388.9" cy="298.7" r="1.2" fill="#1a2a80"/>
<text x="396.5" y="300.6" font-size="5.4" fill="#2a3f5f" textLength="8.9" lengthAdjust="spacingAndGlyphs">GMP</text>
<circle cx="415.5" cy="298.7" r="1.2" fill="#f0a020"/>
<text x="423.2" y="300.6" font-size="5.4" fill="#2a3f5f" textLength="9.8" lengthAdjust="spacingAndGlyphs">HSC</text>
<circle cx="293.8" cy="306" r="1.2" fill="#f4b8c8"/>
<text x="301.5" y="307.9" font-size="5.4" fill="#2a3f5f" textLength="22.7" lengthAdjust="spacingAndGlyphs">Monocytes</text>
<circle cx="335.2" cy="306" r="1.2" fill="#3f6a26"/>
<text x="342.9" y="307.9" font-size="5.4" fill="#2a3f5f" textLength="6.7" lengthAdjust="spacingAndGlyphs">NK</text>
<circle cx="359.7" cy="306" r="1.2" fill="#b0e0e8"/>
<text x="367.4" y="307.9" font-size="5.4" fill="#2a3f5f" textLength="16.6" lengthAdjust="spacingAndGlyphs">Plasma</text>
<circle cx="394.1" cy="306" r="1.2" fill="#1a9e8a"/>
<text x="401.7" y="307.9" font-size="5.4" fill="#2a3f5f" textLength="22.4" lengthAdjust="spacingAndGlyphs">Pre.B.Cell</text>
<circle cx="293.8" cy="313" r="1.2" fill="#b0881e"/>
<text x="301.5" y="314.9" font-size="5.4" fill="#2a3f5f" textLength="24.3" lengthAdjust="spacingAndGlyphs">Progenitor</text>
<circle cx="335.2" cy="313" r="1.2" fill="#dcdcdc"/>
<text x="342.9" y="314.9" font-size="5.4" fill="#2a3f5f" textLength="21.8" lengthAdjust="spacingAndGlyphs">Unknown</text>
<circle cx="374.2" cy="313" r="1.2" fill="#7a7ab8"/>
<text x="381.8" y="314.9" font-size="5.4" fill="#2a3f5f" textLength="9.2" lengthAdjust="spacingAndGlyphs">cDC</text>
<circle cx="400.2" cy="313" r="1.2" fill="#3eb0e8"/>
<text x="407.9" y="314.9" font-size="5.4" fill="#2a3f5f" textLength="10.1" lengthAdjust="spacingAndGlyphs">pDC</text>
<line x1="536.4" x2="536.4" y1="164" y2="276" stroke="#ebf0f8" stroke-width="0.8"/>
<line x1="575.5" x2="575.5" y1="164" y2="276" stroke="#ebf0f8" stroke-width="0.8"/>
<line x1="614.2" x2="614.2" y1="164" y2="276" stroke="#ebf0f8" stroke-width="0.8"/>
<line x1="519.5" x2="626" y1="170.8" y2="170.8" stroke="#ebf0f8" stroke-width="0.8"/>
<line x1="519.5" x2="626" y1="187.5" y2="187.5" stroke="#ebf0f8" stroke-width="0.8"/>
<line x1="519.5" x2="626" y1="203.8" y2="203.8" stroke="#ebf0f8" stroke-width="0.8"/>
<line x1="519.5" x2="626" y1="220.2" y2="220.2" stroke="#ebf0f8" stroke-width="0.8"/>
<line x1="519.5" x2="626" y1="237" y2="237" stroke="#ebf0f8" stroke-width="0.8"/>
<line x1="519.5" x2="626" y1="253.4" y2="253.4" stroke="#ebf0f8" stroke-width="0.8"/>
<line x1="519.5" x2="626" y1="269.5" y2="269.5" stroke="#ebf0f8" stroke-width="0.8"/>
<text x="518.1" y="172.7" font-size="5.3" fill="#2a3f5f" text-anchor="end">15</text>
<text x="518.1" y="189.4" font-size="5.3" fill="#2a3f5f" text-anchor="end">10</text>
<text x="518.1" y="205.7" font-size="5.3" fill="#2a3f5f" text-anchor="end">5</text>
<text x="518.1" y="222.1" font-size="5.3" fill="#2a3f5f" text-anchor="end">0</text>
<text x="518.1" y="238.9" font-size="5.3" fill="#2a3f5f" text-anchor="end">−5</text>
<text x="518.1" y="255.3" font-size="5.3" fill="#2a3f5f" text-anchor="end">−10</text>
<text x="518.1" y="271.4" font-size="5.3" fill="#2a3f5f" text-anchor="end">−15</text>
<text x="537.3" y="283.5" font-size="5.3" fill="#2a3f5f" text-anchor="middle">−10</text>
<text x="613.8" y="283.5" font-size="5.3" fill="#2a3f5f" text-anchor="middle">10</text>
<text x="565.8" y="293.7" font-size="5.6" fill="#2a3f5f" textLength="21.6" lengthAdjust="spacingAndGlyphs">UMAP_1</text>
<text transform="translate(499.0,229.9) rotate(-90)" font-size="5.6" fill="#2a3f5f" textLength="22.2" lengthAdjust="spacingAndGlyphs">UMAP_2</text>
<line x1="566" y1="167.3" x2="569.6" y2="170.2" stroke="#5cb83a" stroke-width="1.8" stroke-linecap="round"/>
<polygon points="581.3,183.4 584.2,180.4 590.1,179.7 594.5,183.4 595.9,186.3 593.7,189.2 593.0,191.4 588.6,190.7 584.2,189.9 581.3,188.5" fill="#1432d8" stroke="#1432d8" stroke-width="1.2" stroke-linejoin="round" fill-opacity="1"/>
<polygon points="539.0,192.1 541.9,189.2 546.3,187.7 550.7,188.5 553.6,186.3 556.5,187.7 557.2,191.4 553.6,193.6 551.4,197.2 553.6,202.3 556.5,205.3 555.0,208.2 552.1,208.9 549.2,206.7 546.3,202.3 543.4,197.9 539.7,195.8" fill="#16b4f5" stroke="#16b4f5" stroke-width="1.5" stroke-linejoin="round" fill-opacity="1"/>
<ellipse cx="542.6" cy="195.6" rx="0.9" ry="1.2" fill="#c0469e" transform="rotate(0 542.6 195.6)"/>
<ellipse cx="550.5" cy="194.2" rx="1.6" ry="1.1" fill="#c05548" transform="rotate(-30 550.5 194.2)"/>
<polygon points="573.0,219.6 577.8,214.0 587.4,210.8 595.5,212.4 597.1,218.0 593.9,222.8 587.4,225.3 581.0,226.1 576.2,222.8" fill="#5d5a98" stroke="#5d5a98" stroke-width="1.3" stroke-linejoin="round" fill-opacity="1"/>
<polygon points="590.7,221.2 595.5,216.4 605.1,211.6 612.0,211.0 616.4,211.6 618.0,215.0 618.0,218.0 614.8,222.8 609.9,226.1 605.1,229.3 600.3,230.9 593.9,229.3 590.7,226.1" fill="#1432d8" stroke="#1432d8" stroke-width="1.3" stroke-linejoin="round" fill-opacity="1"/>
<polygon points="604.2,205.3 609.1,203.0 613.4,204.3 616.4,209.0 619.5,212.2 620.0,215.5 618.5,218.3 615.0,218.8 611.0,217.2 607.0,215.5 605.5,213.0 603.6,209.6" fill="#1ef2c0" stroke="#1ef2c0" stroke-width="1.3" stroke-linejoin="round" fill-opacity="1"/>
<circle cx="606.5" cy="211.5" r="0.9" fill="#1432d8"/><circle cx="610.0" cy="213.5" r="0.9" fill="#1432d8"/><circle cx="607.5" cy="208.5" r="0.9" fill="#1432d8"/>
<polygon points="565.0,224.5 569.8,222.0 576.2,222.8 581.0,225.3 581.0,229.3 577.0,228.5 571.4,226.9 566.6,226.9" fill="#d4900f" stroke="#d4900f" stroke-width="1.3" stroke-linejoin="round" fill-opacity="1"/>
<polygon points="584.2,226.1 590.7,226.9 591.5,230.9 589.0,234.1 585.8,232.5 584.2,229.3" fill="#d4900f" stroke="#d4900f" stroke-width="1.2" stroke-linejoin="round" fill-opacity="1"/>
<polygon points="535.3,219.6 539.3,217.2 545.7,217.7 549.7,221.2 550.5,225.3 548.1,227.7 544.1,226.9 539.3,225.3 535.3,223.7" fill="#c05548" stroke="#c05548" stroke-width="1.3" stroke-linejoin="round" fill-opacity="1"/>
<polygon points="529.6,226.1 534.5,223.7 540.9,223.7 547.3,225.3 549.7,227.7 545.7,230.1 542.5,234.1 541.7,238.9 540.9,242.9 536.1,244.5 531.2,243.7 526.4,241.3 524.0,238.9 526.4,235.7 528.8,230.9" fill="#c0469e" stroke="#c0469e" stroke-width="1.3" stroke-linejoin="round" fill-opacity="1"/>
<ellipse cx="539.5" cy="226.5" rx="1.2" ry="0.8" fill="#f4d0e8" transform="rotate(0 539.5 226.5)"/>
<polygon points="577.8,234.1 584.2,232.5 589.0,235.7 593.9,240.5 594.7,243.7 590.7,246.1 584.2,246.9 577.8,246.9 573.0,244.5 568.2,242.9 569.8,239.7 574.6,238.9" fill="#1ef2c0" stroke="#1ef2c0" stroke-width="1.3" stroke-linejoin="round" fill-opacity="1"/>
<polygon points="559.3,243.7 563.4,242.1 568.2,242.9 566.6,246.1 561.8,247.7 559.3,246.1" fill="#16b4f5" stroke="#16b4f5" stroke-width="1.4" stroke-linejoin="round" fill-opacity="1"/>
<polyline points="614.8,231.3 608.3,231 603.5,235.5 600.3,238.8 595.5,240.8 592.5,243.5" fill="none" stroke="#8b5a5a" stroke-width="2.8" stroke-linecap="round" stroke-linejoin="round"/>
<polygon points="582.6,263.0 585.8,259.8 589.9,260.6 591.5,264.6 590.7,269.4 590.7,271.0 585.8,271.8 583.4,269.4" fill="#8b5a5a" stroke="#8b5a5a" stroke-width="1.3" stroke-linejoin="round" fill-opacity="1"/>
<polyline points="596.8,266.8 600.5,264.5 603.5,258.5 608,253" fill="none" stroke="#8b5a5a" stroke-width="3.4" stroke-linecap="round" stroke-linejoin="round"/>
<polygon points="551.3,259.8 554.5,259.0 557.7,263.8 553.7,264.6 551.3,263.0" fill="#b5c82a" stroke="#b5c82a" stroke-width="1.2" stroke-linejoin="round" fill-opacity="1"/>
<ellipse cx="549.8" cy="262.5" rx="0.9" ry="0.9" fill="#d4900f" transform="rotate(0 549.8 262.5)"/>
<circle cx="587.0" cy="217.0" r="0.9" fill="#1432d8"/><circle cx="597.0" cy="220.0" r="0.9" fill="#1432d8"/><circle cx="600.0" cy="222.0" r="0.9" fill="#1432d8"/><circle cx="582.5" cy="220.0" r="0.9" fill="#1432d8"/><circle cx="589.0" cy="237.0" r="0.9" fill="#1432d8"/><circle cx="607.0" cy="237.0" r="0.9" fill="#1432d8"/><circle cx="593.5" cy="239.0" r="0.9" fill="#1432d8"/><circle cx="608.8" cy="253.0" r="0.9" fill="#1432d8"/>
<circle cx="603.0" cy="214.5" r="0.8" fill="#d4900f"/><circle cx="589.0" cy="226.0" r="0.8" fill="#d4900f"/>
<ellipse cx="586.5" cy="235.5" rx="0.9" ry="0.9" fill="#1432d8" transform="rotate(0 586.5 235.5)"/>
<text x="465" y="307.8" font-size="6.3" fill="#2a3f5f" textLength="24.3" lengthAdjust="spacingAndGlyphs">Cell Type</text>
<circle cx="500.3" cy="305.5" r="1.2" fill="#16b4f5"/>
<text x="508.7" y="307.4" font-size="5.4" fill="#2a3f5f" textLength="3.6" lengthAdjust="spacingAndGlyphs">B</text>
<circle cx="520.5" cy="305.5" r="1.2" fill="#1ef2c0"/>
<text x="528.9" y="307.4" font-size="5.4" fill="#2a3f5f" textLength="16.1" lengthAdjust="spacingAndGlyphs">Early B</text>
<circle cx="555.1" cy="305.5" r="1.2" fill="#8b5a5a"/>
<text x="563.1" y="307.4" font-size="5.4" fill="#2a3f5f" textLength="21.2" lengthAdjust="spacingAndGlyphs">Erythroid</text>
<circle cx="593.7" cy="305.5" r="1.2" fill="#5d5a98"/>
<text x="602.1" y="307.4" font-size="5.4" fill="#2a3f5f" textLength="9.7" lengthAdjust="spacingAndGlyphs">GMP</text>
<circle cx="621.9" cy="305.5" r="1.2" fill="#1432d8"/>
<text x="629.6" y="307.4" font-size="5.4" fill="#2a3f5f" textLength="24.2" lengthAdjust="spacingAndGlyphs">HSC/Prog.</text>
<circle cx="500.3" cy="313.5" r="1.2" fill="#d4900f"/>
<text x="508.7" y="315.4" font-size="5.4" fill="#2a3f5f" textLength="16.8" lengthAdjust="spacingAndGlyphs">Myeloid</text>
<circle cx="535.6" cy="313.5" r="1.2" fill="#5cb83a"/>
<text x="543.3" y="315.4" font-size="5.4" fill="#2a3f5f" textLength="16.5" lengthAdjust="spacingAndGlyphs">Plasma</text>
<circle cx="569.8" cy="313.5" r="1.2" fill="#c05548"/>
<text x="577.6" y="315.4" font-size="5.4" fill="#2a3f5f" textLength="2.8" lengthAdjust="spacingAndGlyphs">T</text>
<circle cx="587.6" cy="313.5" r="1.2" fill="#c0469e"/>
<text x="597.7" y="315.4" font-size="5.4" fill="#2a3f5f" textLength="11.1" lengthAdjust="spacingAndGlyphs">T/NK</text>
<circle cx="619.5" cy="313.5" r="1.2" fill="#b5c82a"/>
<text x="627.9" y="315.4" font-size="5.4" fill="#2a3f5f" textLength="10.4" lengthAdjust="spacingAndGlyphs">pDC</text>
</svg>
<svg width="685" height="810" style="position:absolute;left:0;top:0">
<line x1="141.5" x2="685" y1="533.2" y2="533.2" stroke="#ebf0f8" stroke-width="1.2"/>
<text x="140.3" y="535.7" font-size="7" fill="#2a3f5f" text-anchor="end">0</text>
<line x1="141.5" x2="685" y1="505.0" y2="505.0" stroke="#ebf0f8" stroke-width="0.8"/>
<text x="140.3" y="507.5" font-size="7" fill="#2a3f5f" text-anchor="end">1</text>
<line x1="141.5" x2="685" y1="476.8" y2="476.8" stroke="#ebf0f8" stroke-width="0.8"/>
<text x="140.3" y="479.3" font-size="7" fill="#2a3f5f" text-anchor="end">2</text>
<line x1="141.5" x2="685" y1="448.7" y2="448.7" stroke="#ebf0f8" stroke-width="0.8"/>
<text x="140.3" y="451.2" font-size="7" fill="#2a3f5f" text-anchor="end">3</text>
<line x1="141.5" x2="685" y1="420.5" y2="420.5" stroke="#ebf0f8" stroke-width="0.8"/>
<text x="140.3" y="423.0" font-size="7" fill="#2a3f5f" text-anchor="end">4</text>
<line x1="141.5" x2="685" y1="392.3" y2="392.3" stroke="#ebf0f8" stroke-width="0.8"/>
<text x="140.3" y="394.8" font-size="7" fill="#2a3f5f" text-anchor="end">5</text>
<text x="132.6" y="361.9" font-size="10.35" fill="#3f5375">PAN3 Expression - Pediatric Leukemia Atlas</text>
<text transform="translate(123.6,465) rotate(-90)" font-size="8.8" fill="#2a3f5f" text-anchor="middle">Log-Normalized Counts</text>
<text x="186.3" y="548" font-size="7.1" fill="#2a3f5f" text-anchor="middle">AML Blast</text>
<text x="276.6" y="548" font-size="7.1" fill="#2a3f5f" text-anchor="middle">B-ALL Blast</text>
<text x="367.2" y="548" font-size="7.1" fill="#2a3f5f" text-anchor="middle">B/My MPAL Blast</text>
<text x="458" y="548" font-size="7.1" fill="#2a3f5f" text-anchor="middle">Progenitor</text>
<text x="548.6" y="548" font-size="7.1" fill="#2a3f5f" text-anchor="middle">T-ALL Blast</text>
<text x="639.2" y="548" font-size="7.1" fill="#2a3f5f" text-anchor="middle">T/My MPAL Blast</text>
<text x="410.7" y="407.2" font-size="7.95" fill="#9aa4b1">normal progenitor (HSC, GMP, CMP) cells</text>
<line x1="487.6" y1="414.2" x2="470" y2="439.6" stroke="#9aa4b1" stroke-width="0.7"/>
<polygon points="186.60,483.00 187.10,490.00 187.60,498.00 187.80,505.00 187.70,512.00 187.20,520.00 186.80,527.00 187.80,529.00 192.30,530.50 200.30,531.80 208.30,533.20 164.30,533.20 172.30,531.80 180.30,530.50 184.80,529.00 185.80,527.00 185.40,520.00 184.90,512.00 184.80,505.00 185.00,498.00 185.50,490.00 186.00,483.00" fill="#86192c" fill-opacity="0.5" stroke="#86192c" stroke-width="0.8" stroke-linejoin="round"/>
<rect x="180.40" y="512.30" width="11.80" height="20.90" fill="#86192c" fill-opacity="0.45" stroke="#86192c" stroke-width="0.8"/>
<line x1="186.3" x2="186.3" y1="406" y2="482" stroke="#86192c" stroke-width="3.5" stroke-linecap="round"/>
<circle cx="186.3" cy="396.8" r="1.7" fill="#86192c"/><circle cx="186.3" cy="400.5" r="1.7" fill="#86192c"/><circle cx="186.3" cy="404.0" r="1.7" fill="#86192c"/><circle cx="186.3" cy="407.5" r="1.7" fill="#86192c"/>
<polygon points="276.90,448.00 277.40,460.00 278.10,472.00 279.10,482.00 281.10,490.00 282.80,497.00 283.80,505.00 283.20,512.00 281.80,519.00 282.10,524.00 285.10,527.50 290.10,530.00 295.60,532.00 298.80,533.20 254.40,533.20 257.60,532.00 263.10,530.00 268.10,527.50 271.10,524.00 271.40,519.00 270.00,512.00 269.40,505.00 270.40,497.00 272.10,490.00 274.10,482.00 275.10,472.00 275.80,460.00 276.30,448.00" fill="#d3404f" fill-opacity="0.5" stroke="#d3404f" stroke-width="0.8" stroke-linejoin="round"/>
<rect x="271.20" y="498.20" width="10.80" height="35.00" fill="#d3404f" fill-opacity="0.45" stroke="#d3404f" stroke-width="0.8"/><line x1="271.20" x2="282.00" y1="516.1" y2="516.1" stroke="#d3404f" stroke-width="0.8"/>
<line x1="276.6" x2="276.6" y1="433" y2="447.5" stroke="#d3404f" stroke-width="3.0" stroke-linecap="round"/>
<circle cx="276.6" cy="431.3" r="1.6" fill="#d3404f"/>
<polygon points="367.40,426.00 367.80,440.00 368.40,452.00 369.70,459.00 372.20,466.00 375.70,474.00 378.40,483.00 379.20,491.00 378.20,499.00 375.20,507.00 372.00,514.00 370.20,519.00 370.40,523.00 373.20,526.00 379.20,529.00 384.70,531.40 389.70,533.20 344.70,533.20 349.70,531.40 355.20,529.00 361.20,526.00 364.00,523.00 364.20,519.00 362.40,514.00 359.20,507.00 356.20,499.00 355.20,491.00 356.00,483.00 358.70,474.00 362.20,466.00 364.70,459.00 366.00,452.00 366.60,440.00 367.00,426.00" fill="#f27583" fill-opacity="0.5" stroke="#f27583" stroke-width="0.8" stroke-linejoin="round"/>
<rect x="361.70" y="485.90" width="11.00" height="47.30" fill="#f27583" fill-opacity="0.45" stroke="#f27583" stroke-width="0.8"/><line x1="361.70" x2="372.70" y1="500.3" y2="500.3" stroke="#f27583" stroke-width="0.8"/>
<polygon points="458.30,529.00 459.20,530.50 464.00,531.50 472.00,532.40 480.00,533.20 436.00,533.20 444.00,532.40 452.00,531.50 456.80,530.50 457.70,529.00" fill="#7d3a3e" fill-opacity="0.5" stroke="#7d3a3e" stroke-width="0.8" stroke-linejoin="round"/>
<line x1="458" x2="458" y1="455" y2="526.5" stroke="#7d3a3e" stroke-width="3.6" stroke-linecap="round"/>
<circle cx="458" cy="435.8" r="1.75" fill="#7d3a3e"/><circle cx="458" cy="438.8" r="1.75" fill="#7d3a3e"/><circle cx="458" cy="444.0" r="1.75" fill="#7d3a3e"/><circle cx="458" cy="450.0" r="1.75" fill="#7d3a3e"/><circle cx="458" cy="454.5" r="1.75" fill="#7d3a3e"/><circle cx="458" cy="457.5" r="1.75" fill="#7d3a3e"/>
<polygon points="549.20,501.00 549.70,510.00 549.60,519.00 549.20,525.00 548.90,528.50 551.10,530.00 558.60,531.50 565.60,532.50 570.90,533.30 526.30,533.30 531.60,532.50 538.60,531.50 546.10,530.00 548.30,528.50 548.00,525.00 547.60,519.00 547.50,510.00 548.00,501.00" fill="#a51b35" fill-opacity="0.5" stroke="#a51b35" stroke-width="0.8" stroke-linejoin="round"/>
<rect x="542.60" y="519.40" width="12.00" height="13.90" fill="#a51b35" fill-opacity="0.45" stroke="#a51b35" stroke-width="0.8"/>
<line x1="548.6" x2="548.6" y1="435" y2="500.5" stroke="#a51b35" stroke-width="3.9" stroke-linecap="round"/>
<circle cx="548.6" cy="431.6" r="1.75" fill="#a51b35"/>
<polygon points="639.50,476.50 640.10,483.00 641.00,490.00 642.10,497.00 642.50,503.00 642.20,509.00 641.40,515.00 640.40,521.00 639.60,525.50 640.70,527.50 645.20,529.50 653.20,531.30 662.20,533.20 616.20,533.20 625.20,531.30 633.20,529.50 637.70,527.50 638.80,525.50 638.00,521.00 637.00,515.00 636.20,509.00 635.90,503.00 636.30,497.00 637.40,490.00 638.30,483.00 638.90,476.50" fill="#f2434f" fill-opacity="0.5" stroke="#f2434f" stroke-width="0.8" stroke-linejoin="round"/>
<rect x="633.30" y="509.80" width="11.80" height="23.50" fill="#f2434f" fill-opacity="0.45" stroke="#f2434f" stroke-width="0.8"/>
<line x1="639.2" x2="639.2" y1="439.5" y2="476.5" stroke="#f2434f" stroke-width="3.6" stroke-linecap="round"/>
<circle cx="639.2" cy="436.8" r="1.75" fill="#f2434f"/>
</svg>
<svg width="685" height="810" style="position:absolute;left:0;top:0"><defs><clipPath id="cclip" clipPathUnits="userSpaceOnUse"><rect x="0" y="0" width="652" height="810"/></clipPath></defs>
<line x1="166" x2="650.8" y1="741.0" y2="741.0" stroke="#ebf0f8" stroke-width="1.2"/>
<text x="164.6" y="743.5" font-size="7" fill="#2a3f5f" text-anchor="end">0</text>
<line x1="166" x2="650.8" y1="715.4" y2="715.4" stroke="#ebf0f8" stroke-width="0.8"/>
<text x="164.6" y="717.9" font-size="7" fill="#2a3f5f" text-anchor="end">0.5</text>
<line x1="166" x2="650.8" y1="689.7" y2="689.7" stroke="#ebf0f8" stroke-width="0.8"/>
<text x="164.6" y="692.2" font-size="7" fill="#2a3f5f" text-anchor="end">1</text>
<line x1="166" x2="650.8" y1="664.0" y2="664.0" stroke="#ebf0f8" stroke-width="0.8"/>
<text x="164.6" y="666.5" font-size="7" fill="#2a3f5f" text-anchor="end">1.5</text>
<line x1="166" x2="650.8" y1="638.4" y2="638.4" stroke="#ebf0f8" stroke-width="0.8"/>
<text x="164.6" y="640.9" font-size="7" fill="#2a3f5f" text-anchor="end">2</text>
<text x="156.4" y="607.9" font-size="10.2" fill="#3f5375">PAN3 Expression</text>
<text x="346" y="616.8" font-size="12.1" fill="#8592a1">Healthy Adult BM</text>
<text transform="translate(140.4,691.5) rotate(-90)" font-size="9.0" fill="#2a3f5f" text-anchor="middle">Log-Normalized Counts</text>
<path d="M173.20,741.50 Q181.20,740.20 183.10,738.70 L184.30,738.70 Q186.20,740.20 194.20,741.50 Z" fill="#bb2cf4" stroke="#bb2cf4" stroke-width="0.6"/>
<line x1="183.70" x2="183.70" y1="658.46" y2="741.00" stroke="#bb2cf4" stroke-width="1.5" stroke-opacity="0.85"/>
<circle cx="183.70" cy="705.45" r="1.9" fill="#bb2cf4"/>
<circle cx="183.70" cy="684.64" r="1.9" fill="#bb2cf4"/>
<circle cx="183.70" cy="669.90" r="1.9" fill="#bb2cf4"/>
<circle cx="183.70" cy="658.46" r="1.9" fill="#bb2cf4"/>
<g clip-path="url(#cclip)"><text transform="translate(181.30,754.2) rotate(30)" font-size="7.65" fill="#2a3f5f">T-cell</text></g>
<path d="M210.52,741.50 Q218.52,740.20 220.42,738.70 L221.62,738.70 Q223.52,740.20 231.52,741.50 Z" fill="#3f8cfb" stroke="#3f8cfb" stroke-width="0.6"/>
<line x1="221.02" x2="221.02" y1="684.64" y2="741.00" stroke="#3f8cfb" stroke-width="1.5" stroke-opacity="0.85"/>
<circle cx="221.02" cy="705.45" r="1.9" fill="#3f8cfb"/>
<circle cx="221.02" cy="684.64" r="1.9" fill="#3f8cfb"/>
<g clip-path="url(#cclip)"><text transform="translate(218.62,754.2) rotate(30)" font-size="7.65" fill="#2a3f5f">plasma cell</text></g>
<path d="M247.84,741.50 Q255.84,740.20 257.74,738.70 L258.94,738.70 Q260.84,740.20 268.84,741.50 Z" fill="#8a6a16" stroke="#8a6a16" stroke-width="0.6"/>
<line x1="258.34" x2="258.34" y1="641.17" y2="741.00" stroke="#8a6a16" stroke-width="1.5" stroke-opacity="0.85"/>
<circle cx="258.34" cy="705.45" r="1.9" fill="#8a6a16"/>
<circle cx="258.34" cy="684.64" r="1.9" fill="#8a6a16"/>
<circle cx="258.34" cy="669.90" r="1.9" fill="#8a6a16"/>
<circle cx="258.34" cy="658.46" r="1.9" fill="#8a6a16"/>
<circle cx="258.34" cy="649.07" r="1.9" fill="#8a6a16"/>
<circle cx="258.34" cy="641.17" r="1.9" fill="#8a6a16"/>
<g clip-path="url(#cclip)"><text transform="translate(255.94,754.2) rotate(30)" font-size="7.65" fill="#2a3f5f">No Label</text></g>
<path d="M285.16,741.50 Q293.16,740.20 295.06,738.70 L296.26,738.70 Q298.16,740.20 306.16,741.50 Z" fill="#8a36c6" stroke="#8a36c6" stroke-width="0.6"/>
<line x1="295.66" x2="295.66" y1="658.46" y2="741.00" stroke="#8a36c6" stroke-width="1.5" stroke-opacity="0.85"/>
<circle cx="295.66" cy="705.45" r="1.9" fill="#8a36c6"/>
<circle cx="295.66" cy="684.64" r="1.9" fill="#8a36c6"/>
<circle cx="295.66" cy="669.90" r="1.9" fill="#8a36c6"/>
<circle cx="295.66" cy="658.46" r="1.9" fill="#8a36c6"/>
<g clip-path="url(#cclip)"><text transform="translate(293.26,754.2) rotate(30)" font-size="7.65" fill="#2a3f5f">B-cell</text></g>
<path d="M322.48,741.50 Q330.48,740.20 332.38,738.70 L333.58,738.70 Q335.48,740.20 343.48,741.50 Z" fill="#5c5c5c" stroke="#5c5c5c" stroke-width="0.6"/>
<line x1="332.98" x2="332.98" y1="669.90" y2="741.00" stroke="#5c5c5c" stroke-width="1.5" stroke-opacity="0.85"/>
<circle cx="332.98" cy="705.45" r="1.9" fill="#5c5c5c"/>
<circle cx="332.98" cy="684.64" r="1.9" fill="#5c5c5c"/>
<circle cx="332.98" cy="669.90" r="1.9" fill="#5c5c5c"/>
<g clip-path="url(#cclip)"><text transform="translate(330.58,754.2) rotate(30)" font-size="7.65" fill="#2a3f5f">bone marrow hematopoietic cell</text></g>
<path d="M359.80,741.50 Q367.80,740.20 369.70,738.70 L370.90,738.70 Q372.80,740.20 380.80,741.50 Z" fill="#2a8a57" stroke="#2a8a57" stroke-width="0.6"/>
<line x1="370.30" x2="370.30" y1="669.90" y2="741.00" stroke="#2a8a57" stroke-width="1.5" stroke-opacity="0.85"/>
<circle cx="370.30" cy="705.45" r="1.9" fill="#2a8a57"/>
<circle cx="370.30" cy="684.64" r="1.9" fill="#2a8a57"/>
<circle cx="370.30" cy="669.90" r="1.9" fill="#2a8a57"/>
<g clip-path="url(#cclip)"><text transform="translate(367.90,754.2) rotate(30)" font-size="7.65" fill="#2a3f5f">plasmacytoid dendritic cell</text></g>
<path d="M397.12,741.50 Q405.12,740.20 407.02,738.70 L408.22,738.70 Q410.12,740.20 418.12,741.50 Z" fill="#3ff03f" stroke="#3ff03f" stroke-width="0.6"/>
<line x1="407.62" x2="407.62" y1="658.46" y2="741.00" stroke="#3ff03f" stroke-width="1.5" stroke-opacity="0.85"/>
<circle cx="407.62" cy="705.45" r="1.9" fill="#3ff03f"/>
<circle cx="407.62" cy="684.64" r="1.9" fill="#3ff03f"/>
<circle cx="407.62" cy="669.90" r="1.9" fill="#3ff03f"/>
<circle cx="407.62" cy="658.46" r="1.9" fill="#3ff03f"/>
<g clip-path="url(#cclip)"><text transform="translate(405.22,754.2) rotate(30)" font-size="7.65" fill="#2a3f5f">monocyte</text></g>
<path d="M434.44,741.50 Q442.44,740.20 444.34,738.70 L445.54,738.70 Q447.44,740.20 455.44,741.50 Z" fill="#f4d88e" stroke="#f4d88e" stroke-width="0.6"/>
<line x1="444.94" x2="444.94" y1="669.90" y2="741.00" stroke="#f4d88e" stroke-width="1.5" stroke-opacity="0.85"/>
<circle cx="444.94" cy="705.45" r="1.9" fill="#f4d88e"/>
<circle cx="444.94" cy="684.64" r="1.9" fill="#f4d88e"/>
<circle cx="444.94" cy="669.90" r="1.9" fill="#f4d88e"/>
<g clip-path="url(#cclip)"><text transform="translate(442.54,754.2) rotate(30)" font-size="7.65" fill="#2a3f5f">lymphocyte</text></g>
<path d="M471.76,741.50 Q479.76,740.20 481.66,738.70 L482.86,738.70 Q484.76,740.20 492.76,741.50 Z" fill="#dedede" stroke="#dedede" stroke-width="0.6"/>
<line x1="482.26" x2="482.26" y1="649.07" y2="741.00" stroke="#dedede" stroke-width="1.5" stroke-opacity="0.85"/>
<circle cx="482.26" cy="705.45" r="1.9" fill="#dedede"/>
<circle cx="482.26" cy="684.64" r="1.9" fill="#dedede"/>
<circle cx="482.26" cy="669.90" r="1.9" fill="#dedede"/>
<circle cx="482.26" cy="658.46" r="1.9" fill="#dedede"/>
<circle cx="482.26" cy="649.07" r="1.9" fill="#dedede"/>
<g clip-path="url(#cclip)"><text transform="translate(479.86,754.2) rotate(30)" font-size="7.65" fill="#2a3f5f">erythrocyte</text></g>
<path d="M509.08,741.50 Q517.08,740.20 518.98,738.70 L520.18,738.70 Q522.08,740.20 530.08,741.50 Z" fill="#2bb64a" stroke="#2bb64a" stroke-width="0.6"/>
<line x1="519.58" x2="519.58" y1="658.46" y2="741.00" stroke="#2bb64a" stroke-width="1.5" stroke-opacity="0.85"/>
<circle cx="519.58" cy="705.45" r="1.9" fill="#2bb64a"/>
<circle cx="519.58" cy="684.64" r="1.9" fill="#2bb64a"/>
<circle cx="519.58" cy="669.90" r="1.9" fill="#2bb64a"/>
<circle cx="519.58" cy="658.46" r="1.9" fill="#2bb64a"/>
<g clip-path="url(#cclip)"><text transform="translate(517.18,754.2) rotate(30)" font-size="7.65" fill="#2a3f5f">conventional dendritic cell</text></g>
<path d="M546.40,741.50 Q554.40,740.20 556.30,738.70 L557.50,738.70 Q559.40,740.20 567.40,741.50 Z" fill="#c2451d" stroke="#c2451d" stroke-width="0.6"/>
<line x1="556.90" x2="556.90" y1="658.46" y2="741.00" stroke="#c2451d" stroke-width="1.5" stroke-opacity="0.85"/>
<circle cx="556.90" cy="705.45" r="1.9" fill="#c2451d"/>
<circle cx="556.90" cy="684.64" r="1.9" fill="#c2451d"/>
<circle cx="556.90" cy="669.90" r="1.9" fill="#c2451d"/>
<circle cx="556.90" cy="658.46" r="1.9" fill="#c2451d"/>
<g clip-path="url(#cclip)"><text transform="translate(554.50,754.2) rotate(30)" font-size="7.65" fill="#2a3f5f">natural killer cell</text></g>
<path d="M583.72,741.50 Q591.72,740.20 593.62,738.70 L594.82,738.70 Q596.72,740.20 604.72,741.50 Z" fill="#dba2f4" stroke="#dba2f4" stroke-width="0.6"/>
<line x1="594.22" x2="594.22" y1="669.90" y2="741.00" stroke="#dba2f4" stroke-width="1.5" stroke-opacity="0.85"/>
<circle cx="594.22" cy="705.45" r="1.9" fill="#dba2f4"/>
<circle cx="594.22" cy="684.64" r="1.9" fill="#dba2f4"/>
<circle cx="594.22" cy="669.90" r="1.9" fill="#dba2f4"/>
<g clip-path="url(#cclip)"><text transform="translate(591.82,754.2) rotate(30)" font-size="7.65" fill="#2a3f5f">megakaryocyte</text></g>
<path d="M621.04,741.50 Q629.04,740.20 630.94,738.70 L632.14,738.70 Q634.04,740.20 642.04,741.50 Z" fill="#f020f0" stroke="#f020f0" stroke-width="0.6"/>
<line x1="631.54" x2="631.54" y1="705.45" y2="741.00" stroke="#f020f0" stroke-width="1.5" stroke-opacity="0.85"/>
<circle cx="631.54" cy="705.45" r="1.9" fill="#f020f0"/>
<g clip-path="url(#cclip)"><text transform="translate(629.14,754.2) rotate(30)" font-size="7.65" fill="#2a3f5f">mesenchymal stem cell</text></g>
<text x="654.5" y="682.6" font-size="7.5" fill="#9aa4b1" text-anchor="middle">mesenchymal</text>
<text x="654.5" y="691.4" font-size="7.5" fill="#9aa4b1" text-anchor="middle">stem cell</text>
<line x1="648.7" y1="697.3" x2="637" y2="711.9" stroke="#9aa4b1" stroke-width="0.7"/>
</svg>
</div></body></html>
